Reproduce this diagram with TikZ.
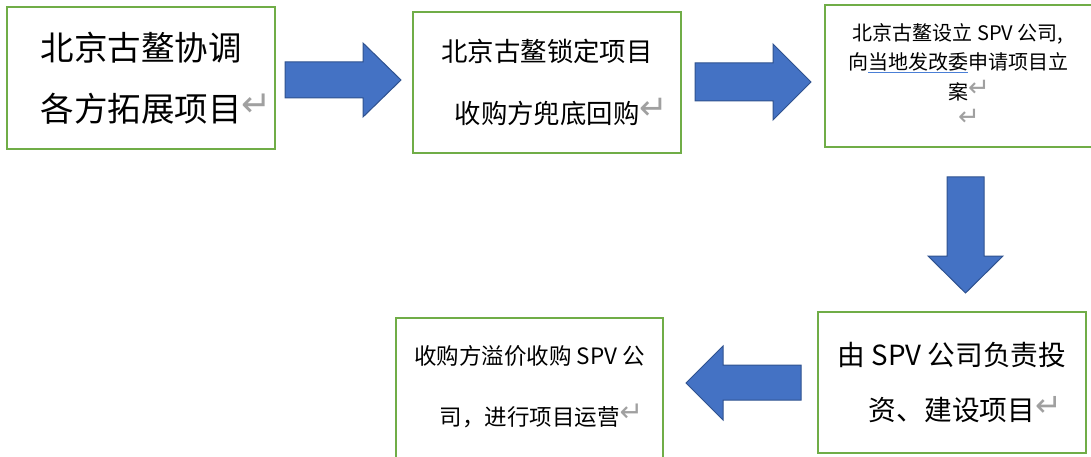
\documentclass[tikz,border=0pt]{standalone}
\usepackage{fontspec}
\setmainfont{Noto Sans CJK SC}
\newfontfamily\symfont{DejaVu Sans}
\definecolor{boxgreen}{HTML}{70AD47}
\definecolor{arrowblue}{HTML}{4472C4}
\definecolor{arrowedge}{HTML}{2F528F}
\definecolor{retgray}{HTML}{A0A0A0}
\definecolor{ulblue}{HTML}{4A7FD6}
\newcommand\retm[1]{\rlap{\symfont\fontsize{#1}{#1}\selectfont\color{retgray}\raisebox{0.12em}{↵}}}
\newcommand\blueul[1]{\setbox0\hbox{#1}\rlap{\color{ulblue}\rule[-3pt]{\wd0}{1pt}}\box0}
\begin{document}
\begin{tikzpicture}[x=1pt,y=-1pt,
  boxline/.style={draw=boxgreen, line width=2pt},
  stepbox/.style={boxline, fill=white, inner sep=0pt, align=center, text=black},
  plain/.style={inner sep=0pt, align=center, text=black},
  blockarrow/.style={fill=arrowblue, draw=arrowedge, line width=1pt, line join=miter}]
\useasboundingbox (0,0) rectangle (1091,457);
\clip (0,0) rectangle (1091,457);

% boxes
\node[stepbox, minimum width=268pt, minimum height=142pt,
      font=\fontsize{33.5}{61}\selectfont] (b1) at (141,78)
  {北京古鳌协调\\各方拓展项目\retm{36}};
\node[stepbox, minimum width=268pt, minimum height=141pt,
      font=\fontsize{26.4}{62}\selectfont] (b2) at (547,82.5)
  {北京古鳌锁定项目\\收购方兜底回购\retm{34}};
\node[plain, minimum width=266pt, minimum height=142pt,
      font=\fontsize{20}{29.5}\selectfont] (b3) at (958,76)
  {北京古鳌设立 SPV 公司,\\向\blueul{当地发改委}申请项目立\\案\retm{26}\\\retm{26}};
\draw[boxline] (b3.north west) rectangle ([xshift=20pt]b3.south east);
\node[stepbox, minimum width=268pt, minimum height=141pt,
      font=\fontsize{27.7}{55}\selectfont] (b4) at (952,382.5)
  {由 SPV 公司负责投\\资、建设项目\retm{32}};
\node[plain, minimum width=267pt, minimum height=137pt,
      font=\fontsize{22.5}{61}\selectfont] (b5) at (529.5,386.5)
  {收购方溢价收购 SPV 公\\司，进行项目运营\retm{28}};
\draw[boxline] (b5.north west) rectangle ([yshift=-20pt]b5.south east);

% block arrows
\draw[blockarrow] (285,62) -- (363,62) -- (363,43) -- (401,80) -- (363,117) -- (363,98) -- (285,98) -- cycle;
\draw[blockarrow] (695,63) -- (773,63) -- (773,44) -- (811,82) -- (773,120) -- (773,101) -- (695,101) -- cycle;
\draw[blockarrow] (947,177) -- (984,177) -- (984,256) -- (1003,256) -- (965.5,293) -- (928,256) -- (947,256) -- cycle;
\draw[blockarrow] (801,365) -- (723,365) -- (723,346) -- (686,383) -- (723,420) -- (723,400) -- (801,400) -- cycle;
\end{tikzpicture}
\end{document}
